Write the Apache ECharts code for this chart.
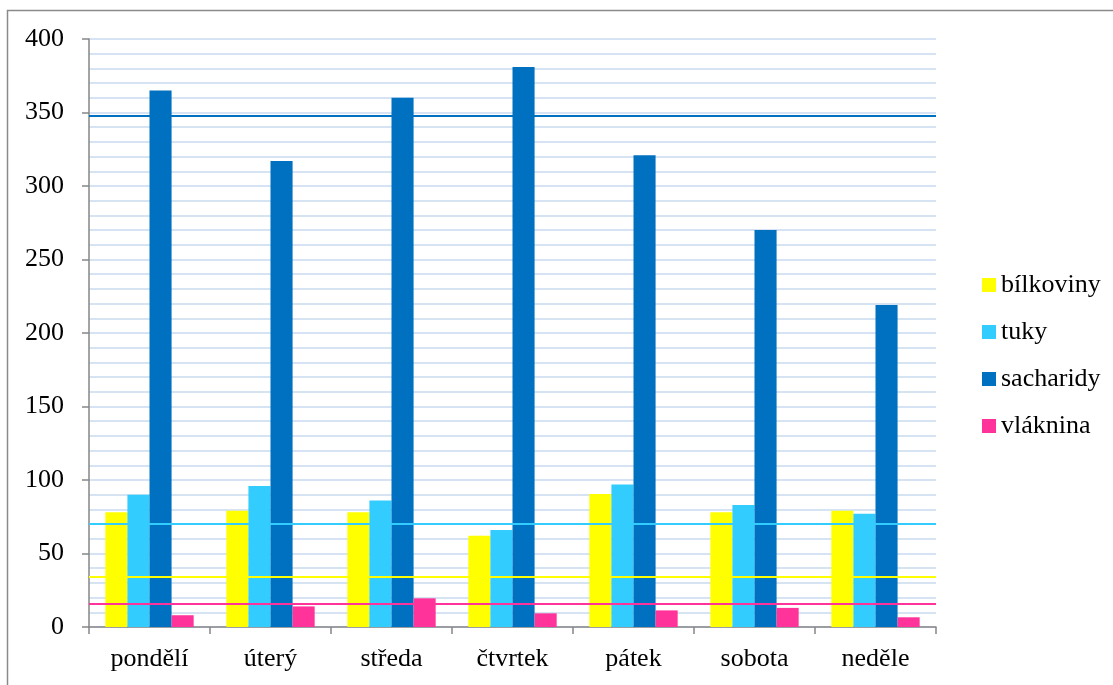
<!DOCTYPE html>
<html>
<head>
<meta charset="utf-8">
<script src="https://cdn.jsdelivr.net/npm/echarts@6/dist/echarts.min.js"></script>
<style>
  html, body { margin: 0; padding: 0; background: #fff; }
  #chart { width: 1113px; height: 685px; }
</style>
</head>
<body>
<div id="chart"></div>
<script>
// Days of the week
const days = ['pondělí', 'úterý', 'středa', 'čtvrtek', 'pátek', 'sobota', 'neděle'];

// Daily intake in grams
const bilkoviny = [78, 79, 78, 62, 90.5, 78, 79];
const tuky      = [90, 96, 86, 66, 97, 83, 77];
const sacharidy = [365, 317, 360, 381, 321, 270, 219];
const vlaknina  = [8, 14, 19.5, 9.3, 11.3, 13, 6.6];

// Recommended daily amounts (horizontal reference lines)
const limits = { bilkoviny: 34.5, tuky: 70, sacharidy: 348, vlaknina: 15.6 };

const names  = ['bílkoviny', 'tuky', 'sacharidy', 'vláknina'];
const colors = ['#FFFF00', '#33CCFF', '#0070C0', '#FF3399'];
const values = [bilkoviny, tuky, sacharidy, vlaknina];
const limitValues = [limits.bilkoviny, limits.tuky, limits.sacharidy, limits.vlaknina];

const serif = "'Liberation Serif', 'Times New Roman', 'DejaVu Serif', serif";

const chart = echarts.init(document.getElementById('chart'), null, { renderer: 'canvas' });

chart.setOption({
  animation: false,
  backgroundColor: '#ffffff',
  graphic: [{
    type: 'rect',
    shape: { x: 7.5, y: 10.5, width: 1300, height: 900 },
    style: { fill: null, stroke: '#8a8a8a', lineWidth: 1.5 },
    silent: true
  }],
  grid: { left: 89, right: 177, top: 39, bottom: 58 },
  legend: {
    orient: 'vertical',
    left: 977,
    top: 267,
    itemWidth: 14,
    itemHeight: 14,
    itemGap: 21,
    icon: 'rect',
    data: names,
    textStyle: { fontFamily: serif, fontSize: 26, color: '#000', lineHeight: 24 }
  },
  xAxis: {
    type: 'category',
    data: days,
    axisLine: { lineStyle: { color: '#868686', width: 1.5 } },
    axisTick: { show: true, length: 7, lineStyle: { color: '#868686', width: 1.5 } },
    axisLabel: { fontFamily: serif, fontSize: 26, color: '#000', margin: 19 }
  },
  yAxis: {
    type: 'value',
    min: 0,
    max: 400,
    interval: 50,
    axisLine: { show: true, lineStyle: { color: '#868686', width: 1.5 } },
    axisTick: { show: true, length: 7, lineStyle: { color: '#868686', width: 1.5 } },
    axisLabel: { fontFamily: serif, fontSize: 26, color: '#000', margin: 25 },
    splitLine: { show: true, lineStyle: { color: '#c8daf0', width: 1.5 } },
    minorTick: { show: false, splitNumber: 5 },
    minorSplitLine: { show: true, lineStyle: { color: '#c8daf0', width: 1.5 } }
  },
  series: names.map((name, i) => ({
    name: name,
    type: 'bar',
    data: values[i],
    barGap: '0%',
    barCategoryGap: '27%',
    itemStyle: { color: colors[i] },
    markLine: {
      silent: true,
      symbol: ['none', 'none'],
      label: { show: false },
      lineStyle: { color: colors[i], width: 2, type: 'solid' },
      data: [{ yAxis: limitValues[i] }]
    }
  }))
});
</script>
</body>
</html>
